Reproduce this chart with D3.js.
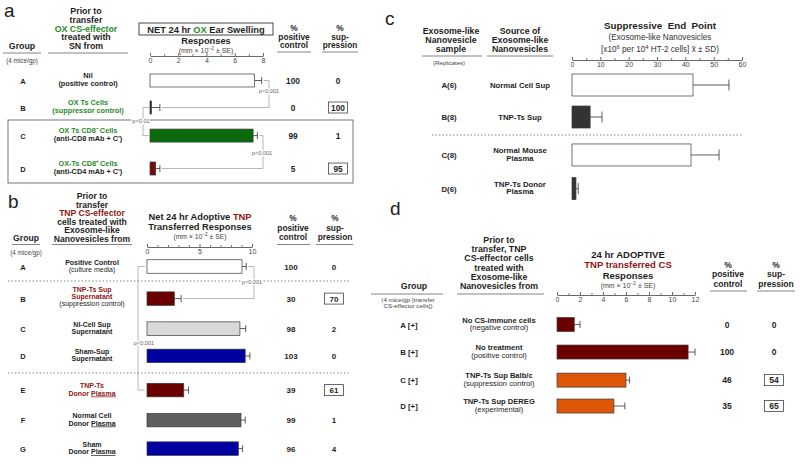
<!DOCTYPE html>
<html><head><meta charset="utf-8">
<script src="https://cdn.jsdelivr.net/npm/d3@7"></script>
<style>
html,body{margin:0;padding:0;background:#fff;}
svg{display:block;font-family:"Liberation Sans",Arial,Helvetica,sans-serif;}
</style></head>
<body><svg id="chart" width="800" height="464"></svg>
<script>
// ================= DATA =================
// Panel a
const aGroups = ["A", "B", "C", "D"];
const aSources = [["Nil", "(positive control)"], ["OX Ts Cells", "(suppressor control)"], ["OX Ts CD8\u207B Cells", "(anti-CD8 mAb + C')"], ["OX-Ts CD8\u207A Cells", "(anti-CD4 mAb + C')"]];
const aValues = [7.4, 0.1, 7.3, 0.4];
const aErrors = [0.5, 0.6, 0.3, 0.3];
const aPositive = [100, 0, 99, 5];
const aSuppression = [0, 100, 1, 95];
const aTicks = [0, 2, 4, 6, 8];
// Panel b
const bGroups = ["A", "B", "C", "D", "E", "F", "G"];
const bSources = [["Positive Control", "(culture media)"], ["TNP-Ts Sup", "Supernatant", "(suppression control)"], ["NI-Cell Sup", "Supernatant"], ["Sham-Sup", "Supernatant"], ["TNP-Ts", "Donor Plasma"], ["Normal Cell", "Donor Plasma"], ["Sham", "Donor Plasma"]];
const bValues = [9.05, 2.6, 8.85, 9.35, 3.5, 8.95, 8.7];
const bErrors = [0.4, 0.65, 0.55, 0.45, 0.45, 0.4, 0.4];
const bPositive = [100, 30, 98, 103, 39, 99, 96];
const bSuppression = [0, 70, 2, 0, 61, 1, 4];
const bTicks = [0, 5, 10];
// Panel c
const cSamples = ["A(6)", "B(8)", "C(8)", "D(6)"];
const cSources = [["Normal Cell Sup"], ["TNP-Ts Sup"], ["Normal Mouse", "Plasma"], ["TNP-Ts Donor", "Plasma"]];
const cValues = [42.7, 6.4, 42.0, 1.4];
const cErrors = [12.7, 4.2, 9.9, 0.8];
const cTicks = [0, 10, 20, 30, 40, 50, 60];
// Panel d
const dGroups = ["A [+]", "B [+]", "C [+]", "D [+]"];
const dSources = [["No CS-immune cells", "(negative control)"], ["No treatment", "(positive control)"], ["TNP-Ts Sup Balb/c", "(suppression control)"], ["TNP-Ts Sup DEREG", "(experimental)"]];
const dValues = [1.5, 11.4, 6.0, 4.95];
const dErrors = [0.5, 0.6, 0.3, 0.95];
const dPositive = [0, 100, 46, 35];
const dSuppression = [0, 0, 54, 65];
const dTicks = [0, 2, 4, 6, 8, 10, 12];

// ================= STYLE / LAYOUT =================
const INK = "#1e1e1e", GREEN = "#2a8a2a", RED = "#8e1616";
const svg = d3.select("#chart");
svg.append("rect").attr("width", 800).attr("height", 464).attr("fill", "#fff");

function rich(g, x, y, segs, o) {
  o = o || {};
  const size = o.size || 8;
  const t = g.append("text").attr("x", x).attr("y", y)
    .attr("text-anchor", o.anchor || "middle")
    .attr("font-size", size)
    .attr("font-weight", o.weight || "bold")
    .attr("fill", o.color || INK);
  if (typeof segs === "string") segs = [{t: segs}];
  let shift = 0;
  segs.forEach(s => {
    const ts = t.append("tspan").text(s.t);
    const want = s.sup ? -size * 0.4 : 0;
    if (want !== shift) { ts.attr("dy", want - shift); shift = want; }
    if (s.sup) ts.attr("font-size", size * 0.7);
    if (s.c) ts.attr("fill", s.c);
    if (s.w) ts.attr("font-weight", s.w);
    if (s.u) ts.attr("text-decoration", "underline");
  });
  if (o.halo) t.attr("stroke", "#fff").attr("stroke-width", 2.5).attr("paint-order", "stroke");
  return t;
}
function hline(g, x1, x2, y, color, w, dash) {
  const l = g.append("line").attr("x1", x1).attr("x2", x2).attr("y1", y).attr("y2", y)
    .attr("stroke", color || INK).attr("stroke-width", w || 0.8);
  if (dash) l.attr("stroke-dasharray", dash);
  return l;
}
function stack(g, x, y0, lines, step, o) {
  lines.forEach((s, i) => rich(g, x, y0 + i * step, s, o));
}
function axis(g, x, y, major, minor) {
  const a = g.append("g").attr("transform", `translate(0,${y})`)
    .call(d3.axisBottom(x).tickValues(major).tickSizeInner(-3).tickSizeOuter(0).tickPadding(2.5).tickFormat(d3.format("d")));
  a.attr("font-family", null).attr("font-size", null);
  a.select(".domain").attr("stroke", "#444").attr("stroke-width", 0.8);
  a.selectAll(".tick line").attr("stroke", "#444").attr("stroke-width", 0.8);
  a.selectAll(".tick text").attr("font-size", 7).attr("fill", "#444");
  const m = g.append("g").attr("transform", `translate(0,${y})`)
    .call(d3.axisBottom(x).tickValues(minor).tickSizeInner(-2).tickSizeOuter(0).tickFormat(""));
  m.select(".domain").remove();
  m.selectAll(".tick line").attr("stroke", "#444").attr("stroke-width", 0.7);
}
function bars(g, x, yOf, vals, errs, fills, h, cap) {
  const rows = vals.map((v, i) => ({v, e: errs[i], y: yOf(i), f: fills[i]}));
  g.selectAll(null).data(rows).join("line")
    .attr("x1", d => x(d.v)).attr("x2", d => x(d.v + d.e)).attr("y1", d => d.y).attr("y2", d => d.y)
    .attr("stroke", "#333").attr("stroke-width", 0.8);
  g.selectAll(null).data(rows).join("line")
    .attr("x1", d => x(d.v + d.e)).attr("x2", d => x(d.v + d.e)).attr("y1", d => d.y - cap / 2).attr("y2", d => d.y + cap / 2)
    .attr("stroke", "#333").attr("stroke-width", 0.8);
  g.selectAll(null).data(rows).join("rect")
    .attr("x", x(0)).attr("y", d => d.y - h / 2).attr("width", d => Math.max(1.2, x(d.v) - x(0))).attr("height", h)
    .attr("fill", d => d.f).attr("stroke", "#3a3a3a").attr("stroke-width", 0.7);
}
function numbers(g, xPos, xSup, yOf, pos, sup, size) {
  pos.forEach((p, i) => {
    rich(g, xPos, yOf(i) + 3, String(p), {size});
    rich(g, xSup, yOf(i) + 3, String(sup[i]), {size});
    if (sup[i] >= 50) {
      g.append("rect").attr("x", xSup - 9.5).attr("y", yOf(i) - 5.5).attr("width", 19).attr("height", 11)
        .attr("fill", "none").attr("stroke", "#444").attr("stroke-width", 0.8);
    }
  });
}
function bracket(g, pts, label, lx, ly) {
  g.append("path").attr("d", d3.line()(pts)).attr("fill", "none").attr("stroke", "#9a9a9a").attr("stroke-width", 0.7);
  rich(g, lx, ly, label, {size: 5.6, weight: "normal", color: "#666", halo: true});
}
function firstBaseline(yc, n, step) { return yc + 3 - (n - 1) * step * 0.5 - (n - 1) * 1.2; }
const unitSub = [{t: "(mm \u00D7 10"}, {t: "\u22122", sup: true}, {t: " \u00B1 SE)"}];

// ================= PANEL A =================
(function () {
  const g = svg.append("g");
  const x = d3.scaleLinear().domain([0, 8]).range([150, 263]);
  const rowY = d3.scaleLinear().domain([0, 1]).range([80.5, 107.5]);
  const slots = [0, 1, 2.04, 3.26];
  const yOf = i => rowY(slots[i]);
  rich(g, 4, 17, "a", {anchor: "start", size: 19, weight: "normal"});
  stack(g, 86, 14, ["Prior to", "transfer", [{t: "OX CS-effector", c: GREEN}], "treated with", "SN from"], 8.8, {size: 8.8});
  rich(g, 22, 49, "Group", {size: 8.8});
  hline(g, 3, 41, 53, "#666", 0.8); hline(g, 48, 128, 53, "#666", 0.8);
  rich(g, 22, 63, "(4 mice/gp)", {size: 6.3, weight: "normal", color: "#444"});
  g.append("rect").attr("x", 139).attr("y", 23).attr("width", 134).attr("height", 12).attr("fill", "none").attr("stroke", "#333").attr("stroke-width", 0.9);
  rich(g, 206, 32.5, [{t: "NET 24 hr "}, {t: "OX", c: GREEN}, {t: " Ear Swelling"}], {size: 9.3});
  rich(g, 206, 44, "Responses", {size: 9.3});
  rich(g, 206, 52.5, unitSub, {size: 7, weight: "normal", color: "#444"});
  axis(g, x, 56, aTicks, [1, 3, 5, 7]);
  stack(g, 294, 31, ["%", "positive", "control"], 8.6, {size: 8.3});
  stack(g, 340, 31, ["%", "sup-", "pression"], 8.6, {size: 8.3});
  hline(g, 277, 311, 52, "#666", 0.8); hline(g, 322, 358, 52, "#666", 0.8);
  g.append("rect").attr("x", 8).attr("y", 120).attr("width", 345).attr("height", 63).attr("fill", "none").attr("stroke", "#555").attr("stroke-width", 0.8);
  const lineColors = [[INK, INK], [GREEN, GREEN], [GREEN, INK], [GREEN, INK]];
  aGroups.forEach((gr, i) => {
    rich(g, 23, yOf(i) + 3, gr, {size: 7.5});
    const y0 = firstBaseline(yOf(i), aSources[i].length, 8);
    aSources[i].forEach((s, j) => rich(g, 88, y0 + j * 8, s, {size: 7.3, color: lineColors[i][j]}));
  });
  bracket(g, [[x(aValues[0] + aErrors[0]) + 2, yOf(0)], [269, yOf(0)], [269, yOf(1)], [x(aValues[1] + aErrors[1]) + 2, yOf(1)]], "p<0.001", 269, 93);
  bracket(g, [[149, yOf(1)], [143, yOf(1)], [143, yOf(2)], [149, yOf(2)]], "p<0.01", 141, 123);
  bracket(g, [[x(aValues[2] + aErrors[2]) + 2, yOf(2)], [263, yOf(2)], [263, yOf(3)], [x(aValues[3] + aErrors[3]) + 2, yOf(3)]], "p<0.001", 262, 155);
  bars(g, x, yOf, aValues, aErrors, ["#ffffff", "#222", "#0b6a0b", "#7a0a0a"], 13, 7);
  numbers(g, 293, 338, yOf, aPositive, aSuppression, 8.3);
})();

// ================= PANEL B =================
(function () {
  const g = svg.append("g");
  const x = d3.scaleLinear().domain([0, 10]).range([147, 252]);
  const rowY = d3.scaleLinear().domain([0, 1]).range([266.5, 296.5]);
  const slots = [0, 1.07, 2.07, 2.98, 4.12, 5.12, 6.07];
  const yOf = i => rowY(slots[i]);
  rich(g, 8, 208, "b", {anchor: "start", size: 19, weight: "normal"});
  stack(g, 92, 199, ["Prior to", "transfer", [{t: "TNP CS-effector", c: RED}], "cells treated with", "Exosome-like", "Nanovesicles from"], 8.6, {size: 8.6});
  rich(g, 26, 241, "Group", {size: 8.6});
  hline(g, 12, 40, 244.5, "#666", 0.8); hline(g, 52, 132, 244.5, "#666", 0.8);
  rich(g, 26, 255, "(4 mice/gp)", {size: 6.3, weight: "normal", color: "#444"});
  rich(g, 200, 220, [{t: "Net 24 hr Adoptive "}, {t: "TNP", c: RED}], {size: 9.3});
  rich(g, 200, 230, "Transferred Responses", {size: 9.3});
  rich(g, 200, 239, unitSub, {size: 6.8, weight: "normal", color: "#444"});
  axis(g, x, 247, bTicks, [1, 2, 3, 4, 6, 7, 8, 9]);
  stack(g, 293, 221, ["%", "positive", "control"], 9.5, {size: 8.3});
  stack(g, 335, 221, ["%", "sup-", "pression"], 9.5, {size: 8.3});
  hline(g, 277, 310, 244.5, "#666", 0.8); hline(g, 316, 353, 244.5, "#666", 0.8);
  hline(g, 8, 350, 281, "#777", 0.9, "1.5,2");
  hline(g, 8, 350, 373, "#777", 0.9, "1.5,2");
  bGroups.forEach((gr, i) => {
    rich(g, 23, yOf(i) + 3, gr, {size: 7.5});
    const n = bSources[i].length;
    const y0 = firstBaseline(yOf(i), n, 7.2);
    bSources[i].forEach((s, j) => {
      const red = (i === 1 && j < 2) || i === 4;
      const col = red ? RED : INK;
      const w = s.startsWith("(") ? "normal" : "bold";
      const segs = s.endsWith("Plasma") ? [{t: s.replace("Plasma", "")}, {t: "Plasma", u: true}] : s;
      rich(g, 92, y0 + j * 7.2, segs, {size: 7, color: col, weight: w});
    });
  });
  bracket(g, [[x(bValues[0] + bErrors[0]) + 2, yOf(0)], [254, yOf(0)], [254, yOf(1)], [x(bValues[1] + bErrors[1]) + 2, yOf(1)]], "p<0.001", 252, 284);
  bracket(g, [[145, yOf(0)], [138, yOf(0)], [138, yOf(4)], [145, yOf(4)]], "p<0.001", 144, 345);
  bars(g, x, yOf, bValues, bErrors, ["#ffffff", "#6b0000", "#d9d9d9", "#0000a0", "#6b0000", "#5e5e5e", "#0000a0"], 13.5, 7);
  numbers(g, 291, 334, yOf, bPositive, bSuppression, 8);
})();

// ================= PANEL C =================
(function () {
  const g = svg.append("g");
  const x = d3.scaleLinear().domain([0, 60]).range([572, 742]);
  const rowY = d3.scaleLinear().domain([0, 1]).range([85, 118]);
  const slots = [0, 0.97, 2.12, 3.14];
  const yOf = i => rowY(slots[i]);
  rich(g, 385, 25, "c", {anchor: "start", size: 19, weight: "normal"});
  stack(g, 451, 34, ["Exosome-like", "Nanovesicle", "sample"], 9, {size: 8.8});
  stack(g, 520, 34, ["Source of", "Exosome-like", "Nanovesicles"], 9, {size: 8.8});
  hline(g, 422, 482, 56, "#666", 0.8); hline(g, 487, 553, 56, "#666", 0.8);
  rich(g, 449, 65, "(Replicates)", {size: 6, weight: "normal", color: "#444"});
  rich(g, 660, 29, "Suppressive\u00A0 End\u00A0 Point", {size: 9.8});
  rich(g, 660, 39.5, "(Exosome-like Nanovesicles", {size: 8.2, weight: "normal", color: "#333"});
  rich(g, 660, 52, [{t: "[x10"}, {t: "6", sup: true}, {t: " per 10"}, {t: "4", sup: true}, {t: " HT-2 cells] x\u0304 \u00B1 SD)"}], {size: 8.2, weight: "normal", color: "#333"});
  axis(g, x, 60, cTicks, [5, 15, 25, 35, 45, 55]);
  hline(g, 432, 743, 135, "#777", 0.9, "1.5,2");
  cSamples.forEach((s, i) => {
    rich(g, 449, yOf(i) + 3, s, {size: 7.8});
    const n = cSources[i].length;
    const y0 = firstBaseline(yOf(i), n, 7.5);
    cSources[i].forEach((t, j) => rich(g, 520, y0 + j * 7.5, t, {size: 7.8}));
  });
  bars(g, x, yOf, cValues, cErrors, ["#ffffff", "#333333", "#ffffff", "#333333"], 22, 11);
})();

// ================= PANEL D =================
(function () {
  const g = svg.append("g");
  const x = d3.scaleLinear().domain([0, 12]).range([557, 695]);
  const rowY = d3.scaleLinear().domain([0, 1]).range([324.5, 351.5]);
  const slots = [0, 1.02, 2.06, 3.02];
  const yOf = i => rowY(slots[i]);
  rich(g, 390, 215, "d", {anchor: "start", size: 19, weight: "normal"});
  stack(g, 499, 243, ["Prior to", "transfer, TNP", "CS-effector cells", "treated with", "Exosome-like", "Nanovesicles from"], 9.2, {size: 8.8});
  rich(g, 414, 289, "Group", {size: 8.8});
  hline(g, 371, 443, 294, "#666", 0.8); hline(g, 457, 544, 294, "#666", 0.8);
  stack(g, 408, 301.5, ["(4 mice/gp [transfer", "CS-effector cells])"], 6.3, {size: 6.2, weight: "normal", color: "#444"});
  rich(g, 628, 258, "24 hr ADOPTIVE", {size: 9.5});
  rich(g, 628, 268, "TNP transferred CS", {size: 9.5, color: RED});
  rich(g, 628, 278.5, "Responses", {size: 9.5});
  rich(g, 628, 288, unitSub, {size: 7, weight: "normal", color: "#444"});
  axis(g, x, 295, dTicks, [1, 3, 5, 7, 9, 11]);
  stack(g, 728, 268, ["%", "positive", "control"], 9.3, {size: 8.5});
  stack(g, 776, 268, ["%", "sup-", "pression"], 9.3, {size: 8.5});
  hline(g, 710, 747, 291, "#666", 0.8); hline(g, 757, 795, 291, "#666", 0.8);
  dGroups.forEach((gr, i) => {
    rich(g, 409, yOf(i) + 3, gr, {size: 7.8});
    const n = dSources[i].length;
    const y0 = firstBaseline(yOf(i), n, 7.5);
    dSources[i].forEach((t, j) => rich(g, 499, y0 + j * 7.5, t, {size: 7.6, weight: t.startsWith("(") ? "normal" : "bold"}));
  });
  bars(g, x, yOf, dValues, dErrors, ["#6b0000", "#6b0000", "#e05608", "#e05608"], 14, 7);
  numbers(g, 727, 774, yOf, dPositive, dSuppression, 8.5);
})();
</script></body></html>
